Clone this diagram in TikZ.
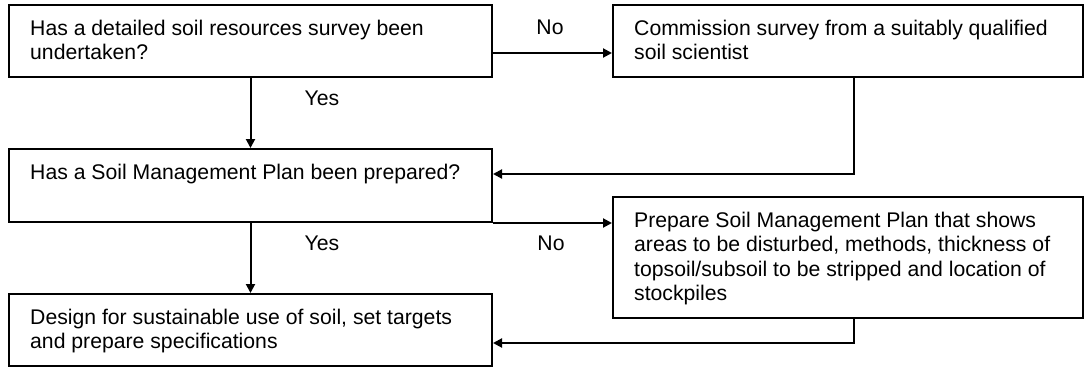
\documentclass[tikz,border=0pt]{standalone}
\usepackage{fontspec}
\setmainfont{Liberation Sans}
\usetikzlibrary{arrows.meta}
\begin{document}
\begin{tikzpicture}[x=1pt,y=-1pt,
  box/.style={draw=black, line width=2pt, rectangle, inner sep=0pt, anchor=north west},
  txt/.style={anchor=base west, inner sep=0pt, font=\fontsize{21.2}{24.6}\selectfont},
  lbl/.style={anchor=base, inner sep=0pt, font=\fontsize{21.2}{24.6}\selectfont},
  arr/.style={line width=2pt, -{Triangle[length=9pt,width=9pt]}}]
\useasboundingbox (0,0) rectangle (1086,367);

% decision and action boxes
\node[box, minimum width=483pt, minimum height=72pt] (A) at (8,4) {};
\node[box, minimum width=470pt, minimum height=72pt] (B) at (612,4) {};
\node[box, minimum width=483pt, minimum height=73pt] (C) at (8,148) {};
\node[box, minimum width=470pt, minimum height=121pt] (D) at (612,196) {};
\node[box, minimum width=483pt, minimum height=72pt] (E) at (8,293) {};

% box texts, set from the top left corner
\node[txt] (At) at (30,35) {\parbox[t]{460pt}{\raggedright Has a detailed soil resources survey been\\undertaken?}};
\node[txt] (Bt) at (634,35) {\parbox[t]{440pt}{\raggedright Commission survey from a suitably qualified\\soil scientist}};
\node[txt] (Ct) at (30,179) {\parbox[t]{460pt}{\raggedright Has a Soil Management Plan been prepared?}};
\node[txt] (Dt) at (634,227) {\parbox[t]{440pt}{\raggedright Prepare Soil Management Plan that shows\\areas to be disturbed, methods, thickness of\\topsoil/subsoil to be stripped and location of\\stockpiles}};
\node[txt] (Et) at (30,324) {\parbox[t]{460pt}{\raggedright Design for sustainable use of soil, set targets\\and prepare specifications}};

% branch labels
\node[lbl] (no1) at (550,34) {No};
\node[lbl] (yes1) at (322,105) {Yes};
\node[lbl] (yes2) at (322,250) {Yes};
\node[lbl] (no2) at (551,250) {No};

% connectors
\draw[arr] ([yshift=-12pt]A.east) -- ([yshift=-12pt]B.west);
\draw[arr] (A.south) -- (C.north);
\draw[arr] ([xshift=6pt]B.south) |- ([yshift=11.5pt]C.east);
\draw[arr] (C.south east) -- (C.south east -| D.west);
\draw[arr] (C.south) -- (E.north);
\draw[arr] ([xshift=6pt]D.south) |- ([yshift=-13pt]E.east);
\end{tikzpicture}
\end{document}
